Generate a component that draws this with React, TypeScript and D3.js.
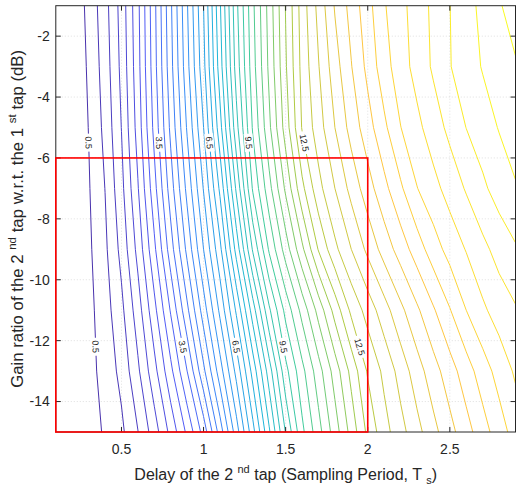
import React from 'react';
import * as d3 from 'd3';

// Grid of the surface (x = delay, y = gain ratio in dB)
const xGrid = [0.1, 0.2, 0.3, 0.4, 0.5, 0.6, 0.7, 0.8, 0.9, 1.0, 1.1, 1.2, 1.3, 1.4, 1.5, 1.6, 1.7, 1.8, 1.9, 2.0, 2.1, 2.2, 2.3, 2.4, 2.5, 2.6, 2.7, 2.8, 2.9];
const yGrid = [-1, -3, -5, -7, -9, -11, -13, -15];

const zRowM1 = [0.0, 0.227, 0.595, 1.044, 1.628, 2.419, 3.411, 4.445, 5.472, 6.5, 7.793, 9.086, 10.096, 10.973, 11.851, 12.658, 13.267, 13.863, 14.288, 14.713, 15.137, 15.402, 15.655, 15.909, 16.162, 16.375, 16.587, 16.799, 16.99];
const zRowM3 = [0.0, 0.2, 0.55, 0.99, 1.582, 2.38, 3.371, 4.386, 5.393, 6.399, 7.674, 8.978, 10.029, 10.912, 11.794, 12.608, 13.148, 13.688, 14.153, 14.592, 15.031, 15.351, 15.618, 15.884, 16.151, 16.339, 16.522, 16.68, 16.8];
const zRowM5 = [0.0, 0.186, 0.508, 0.925, 1.507, 2.302, 3.264, 4.248, 5.206, 6.165, 7.374, 8.72, 9.874, 10.764, 11.654, 12.524, 13.012, 13.5, 13.961, 14.36, 14.759, 15.159, 15.415, 15.668, 15.921, 16.172, 16.346, 16.518, 16.68];
const zRowM7 = [0.0, 0.18, 0.471, 0.838, 1.404, 2.141, 3.049, 4.008, 4.931, 5.854, 6.9, 8.233, 9.542, 10.387, 11.232, 12.077, 12.722, 13.166, 13.611, 14.022, 14.4, 14.778, 15.156, 15.395, 15.63, 15.866, 16.101, 16.311, 16.47];
const zRowM9 = [0.0, 0.19, 0.437, 0.767, 1.266, 1.936, 2.76, 3.682, 4.591, 5.5, 6.409, 7.625, 8.875, 9.885, 10.654, 11.423, 12.192, 12.75, 13.167, 13.583, 13.972, 14.318, 14.665, 15.011, 15.292, 15.519, 15.745, 15.955, 16.13];
const zRowM11 = [0.0, 0.19, 0.4, 0.688, 1.085, 1.673, 2.397, 3.201, 4.091, 5.0, 5.909, 6.889, 8.0, 9.111, 9.938, 10.612, 11.286, 11.961, 12.578, 12.968, 13.358, 13.747, 14.108, 14.461, 14.814, 15.167, 15.44, 15.648, 15.8];
const zRowM13 = [0.0, 0.2, 0.377, 0.629, 0.925, 1.44, 2.053, 2.746, 3.5, 4.423, 5.346, 6.269, 7.289, 8.342, 9.395, 10.063, 10.688, 11.313, 11.938, 12.538, 12.914, 13.3, 13.681, 14.028, 14.353, 14.679, 15.004, 15.295, 15.55];
const zRowM15 = [0.0, 0.18, 0.327, 0.546, 0.765, 1.157, 1.672, 2.271, 2.905, 3.633, 4.657, 5.681, 6.714, 7.786, 8.857, 9.75, 10.375, 11.0, 11.625, 12.25, 12.705, 13.047, 13.389, 13.731, 14.055, 14.373, 14.691, 15.008, 15.31];
const zRows = [zRowM1, zRowM3, zRowM5, zRowM7, zRowM9, zRowM11, zRowM13, zRowM15];

const levels = [
  0.5, 0.8333, 1.1667, 1.5, 1.8333, 2.1667, 2.5, 2.8333, 3.1667, 3.5,
  3.8333, 4.1667, 4.5, 4.8333, 5.1667, 5.5, 5.8333, 6.1667, 6.5, 6.8333,
  7.1667, 7.5, 7.8333, 8.1667, 8.5, 8.8333, 9.1667, 9.5, 9.8333, 10.1667,
  10.5, 10.8333, 11.1667, 11.5, 11.8333, 12.1667, 12.5, 12.8333, 13.1667, 13.5,
  13.8333, 14.1667, 14.5, 14.8333, 15.1667, 15.5, 15.8333, 16.1667, 16.5, 16.8333,
];
const labeledLevels = [0.5, 3.5, 6.5, 9.5, 12.5];
const xTicks = [0.5, 1, 1.5, 2, 2.5];
const yTicks = [-14, -12, -10, -8, -6, -4, -2];
const parula = ['#3e26a8', '#4852f4', '#2e87f7', '#12b1d6', '#37c897', '#abc739', '#fec338', '#f9fb15'];

// layout
const W = 516, H = 490;
const L = 55.8, R = 515.5, T = 5.7, B = 432;
const LABEL_Y = [-5.5, -12.2];
const AX = '#262626';
const FONT = "'Liberation Sans', Arial, Helvetica, sans-serif";

export default function App() {
  const x = d3.scaleLinear().domain([0.1, 2.9]).range([L, R]);
  const y = d3.scaleLinear().domain([-15, -1]).range([B, T]);
  const nx = xGrid.length, ny = yGrid.length;
  const gx = d3.scaleLinear().domain([0.5, nx - 0.5]).range([xGrid[0], xGrid[nx - 1]]);
  const gy = d3.scaleLinear().domain([0.5, ny - 0.5]).range([yGrid[0], yGrid[ny - 1]]);
  const values = zRows.flat();
  const contours = d3.contours().size([nx, ny]).thresholds(levels)(values);
  const lmin = levels[0], lmax = levels[levels.length - 1];
  const colorScale = d3
    .scaleLinear<string>()
    .domain(parula.map((_, i) => lmin + ((lmax - lmin) * i) / (parula.length - 1)))
    .range(parula)
    .interpolate(d3.interpolateRgb);

  const toScreen = (p: number[]) => [x(gx(p[0])), y(gy(p[1]))];

  const paths = contours.map((c) => {
    const d = c.coordinates
      .map((poly) =>
        poly
          .map((ring) => 'M' + ring.map((p) => toScreen(p).map((v) => v.toFixed(2)).join(',')).join('L') + 'Z')
          .join('')
      )
      .join('');
    return { d, value: c.value };
  });

  // labels
  const labels: { cx: number; cy: number; ang: number; text: string }[] = [];
  labeledLevels.forEach((lv) => {
    const c = contours.find((cc) => Math.abs(cc.value - lv) < 1e-3);
    if (!c) return;
    LABEL_Y.forEach((yt) => {
      let found: { cx: number; cy: number; ang: number } | null = null;
      c.coordinates.forEach((poly) =>
        poly.forEach((ring) => {
          for (let i = 0; i < ring.length - 1 && !found; i++) {
            const x1 = gx(ring[i][0]), y1 = gy(ring[i][1]);
            const x2 = gx(ring[i + 1][0]), y2 = gy(ring[i + 1][1]);
            if (y1 === y2) continue;
            if ((y1 - yt) * (y2 - yt) > 0) continue;
            const t = (yt - y1) / (y2 - y1);
            const xc = x1 + t * (x2 - x1);
            if (xc <= 0.1 || xc >= 2.9) continue;
            const dx = x(x2) - x(x1), dy = y(y2) - y(y1);
            let ang = (Math.atan2(dy, dx) * 180) / Math.PI;
            if (ang > 90) ang -= 180;
            if (ang <= -90) ang += 180;
            found = { cx: x(xc), cy: y(yt), ang };
          }
        })
      );
      if (found) labels.push({ ...(found as any), text: String(lv) });
    });
  });

  return (
    <svg width={W} height={H} style={{ position: 'absolute', left: 0, top: 0, background: '#fff' }} fontFamily={FONT}>
      <defs>
        <clipPath id="plotClip">
          <rect x={L} y={T} width={R - L} height={B - T} />
        </clipPath>
      </defs>
      <rect x={0} y={0} width={W} height={H} fill="#fff" />
      {/* grid */}
      <g stroke={AX} strokeOpacity={0.18} strokeWidth={0.8} strokeDasharray="1,2">
        {xTicks.map((t) => (
          <line key={'gx' + t} x1={x(t)} x2={x(t)} y1={T} y2={B} />
        ))}
        {yTicks.map((t) => (
          <line key={'gy' + t} x1={L} x2={R} y1={y(t)} y2={y(t)} />
        ))}
      </g>
      {/* contours */}
      <g clipPath="url(#plotClip)" fill="none" strokeWidth={0.95}>
        {paths.map((p, i) => (
          <path key={i} d={p.d} stroke={colorScale(p.value)} />
        ))}
      </g>
      {/* contour labels */}
      <g>
        {labels.map((lb, i) => {
          const w = lb.text.length * 5 + 3;
          return (
            <g key={i} transform={`translate(${lb.cx},${lb.cy}) rotate(${lb.ang})`}>
              <rect x={-w / 2} y={-4.5} width={w} height={9} fill="#fff" />
              <text fontSize={9} textAnchor="middle" dy="0.35em" fill="#222">
                {lb.text}
              </text>
            </g>
          );
        })}
      </g>
      {/* axes box */}
      <rect x={L} y={T} width={R - L} height={B - T} fill="none" stroke={AX} strokeWidth={1} />
      {/* ticks */}
      <g stroke={AX} strokeWidth={1}>
        {xTicks.map((t) => (
          <g key={'tx' + t}>
            <line x1={x(t)} x2={x(t)} y1={B} y2={B - 5} />
            <line x1={x(t)} x2={x(t)} y1={T} y2={T + 5} />
          </g>
        ))}
        {yTicks.map((t) => (
          <g key={'ty' + t}>
            <line x1={L} x2={L + 5} y1={y(t)} y2={y(t)} />
            <line x1={R} x2={R - 5} y1={y(t)} y2={y(t)} />
          </g>
        ))}
      </g>
      {/* red region */}
      <rect x={x(0.1)} y={y(-6)} width={x(2) - x(0.1)} height={y(-15) - y(-6)} fill="none" stroke="#ff0000" strokeWidth={1.6} />
      {/* tick labels */}
      <g fontSize={14} fill={AX}>
        {xTicks.map((t) => (
          <text key={'lx' + t} x={x(t)} y={453.5} textAnchor="middle">
            {String(t)}
          </text>
        ))}
        {yTicks.map((t) => (
          <text key={'ly' + t} x={L - 6} y={y(t)} dy="0.35em" textAnchor="end">
            {String(t)}
          </text>
        ))}
      </g>
      {/* axis labels */}
      <text x={(L + R) / 2} y={480} fontSize={16} fill={AX} textAnchor="middle">
        Delay of the 2 <tspan fontSize={11} dy={-7}>nd</tspan>
        <tspan dy={7}> tap (Sampling Period, T </tspan>
        <tspan fontSize={11} dy={4}>s</tspan>
        <tspan dy={-4}>)</tspan>
      </text>
      <text transform={`translate(23,${(T + B) / 2}) rotate(-90)`} fontSize={16.8} fill={AX} textAnchor="middle">
        Gain ratio of the 2 <tspan fontSize={11.5} dy={-7}>nd</tspan>
        <tspan dy={7}> tap w.r.t. the 1 </tspan>
        <tspan fontSize={11.5} dy={-7}>st</tspan>
        <tspan dy={7}> tap (dB)</tspan>
      </text>
    </svg>
  );
}
